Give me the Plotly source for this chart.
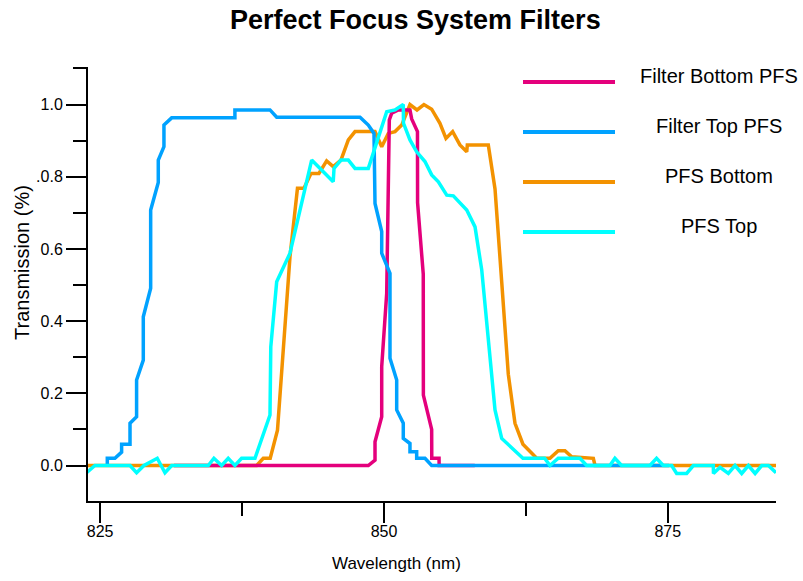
import plotly.graph_objects as go

# ---------------- data (wavelength in nm, transmission as fraction) ----------------
series_names = ["Filter Bottom PFS", "Filter Top PFS", "PFS Bottom", "PFS Top"]
series_colors = ["#E4007C", "#00A2FF", "#F39200", "#00FFFF"]

wl_filter_bottom = [831.5, 848.62, 849.21, 849.21, 849.80, 849.80, 850.24, 850.47, 850.68, 851.26,
                    852.29, 852.44, 852.95, 852.96, 853.46, 853.47, 854.20, 854.21, 854.85, 854.86, 858.0]
tr_filter_bottom = [0, 0, 0.015, 0.066, 0.135, 0.274, 0.477, 0.957, 0.976, 0.985,
                    0.985, 0.960, 0.925, 0.728, 0.530, 0.195, 0.100, 0.020, 0.020, 0, 0]

wl_filter_top = [825.63, 825.63, 826.30, 826.89, 826.89, 827.63, 827.63, 828.21, 828.21, 828.80,
                 828.80, 829.45, 829.45, 830.12, 830.12, 830.62, 830.62, 831.30, 836.87, 836.87,
                 839.96, 840.55, 847.89, 848.48, 848.62, 849.12, 849.21, 849.80, 849.80, 850.53,
                 850.53, 851.12, 851.12, 851.70, 851.70, 852.29, 852.29, 852.88, 852.88, 853.61,
                 854.20, 875.1]
tr_filter_top = [0, 0.02, 0.02, 0.037, 0.059, 0.059, 0.117, 0.135, 0.237, 0.292,
                 0.412, 0.491, 0.708, 0.784, 0.846, 0.883, 0.943, 0.963, 0.963, 0.985,
                 0.985, 0.965, 0.965, 0.948, 0.943, 0.920, 0.726, 0.648, 0.588, 0.532,
                 0.297, 0.237, 0.154, 0.117, 0.075, 0.061, 0.038, 0.038, 0.020, 0.020,
                 0, 0]

wl_pfs_bottom = [823.3, 838.79, 839.37, 839.98, 840.62, 841.72, 842.38, 842.95, 843.57, 844.27,
                 844.95, 845.53, 846.21, 846.86, 847.45, 849.21, 849.80, 850.38, 850.97, 851.56,
                 852.29, 852.91, 853.52, 854.20, 854.93, 855.46, 856.05, 856.69, 857.29, 857.34,
                 859.19, 859.78, 860.37, 860.95, 861.54, 862.24, 863.45, 864.62, 865.35, 865.94,
                 866.53, 868.44, 868.59, 884.53]
tr_pfs_bottom = [0, 0, 0.02, 0.02, 0.098, 0.578, 0.768, 0.768, 0.809, 0.809,
                 0.844, 0.828, 0.846, 0.902, 0.925, 0.925, 0.883, 0.920, 0.925, 0.943,
                 1.0, 0.985, 1.0, 0.987, 0.948, 0.906, 0.925, 0.888, 0.869, 0.888,
                 0.888, 0.766, 0.509, 0.253, 0.117, 0.059, 0.020, 0.020, 0.041, 0.041,
                 0.024, 0.020, 0, 0]

wl_pfs_top = [823.3, 823.81, 824.54, 827.63, 828.21, 828.86, 830.03, 830.71, 831.30, 834.52,
              835.02, 835.70, 836.28, 836.87, 837.46, 838.64, 839.96, 840.03, 840.55, 841.72,
              843.63, 844.36, 845.53, 845.60, 846.21, 846.86, 847.45, 848.62, 850.24, 850.97,
              851.70, 851.72, 852.29, 852.88, 853.61, 854.20, 854.79, 855.53, 856.11, 857.29,
              858.02, 858.61, 859.19, 859.78, 860.37, 862.24, 864.15, 864.62, 865.35, 867.26,
              867.85, 869.90, 870.34, 870.93, 873.42, 874.01, 874.60, 875.34, 875.78, 876.66,
              877.25, 879.01, 879.02, 879.60, 880.33, 880.92, 881.51, 882.10, 882.69, 883.27,
              883.86, 884.53]
tr_pfs_top = [0, -0.02, 0, 0, -0.02, 0, 0.02, -0.02, 0, 0,
              0.02, 0, 0.02, 0, 0.02, 0.02, 0.14, 0.329, 0.509, 0.588,
              0.846, 0.822, 0.786, 0.823, 0.846, 0.846, 0.823, 0.823, 0.98, 0.985,
              1.0, 0.948, 0.902, 0.869, 0.842, 0.805, 0.786, 0.749, 0.747, 0.708,
              0.661, 0.542, 0.348, 0.154, 0.075, 0.02, 0.02, 0, 0.02, 0.02,
              0, 0, 0.02, 0, 0, 0.02, 0, 0, -0.022, -0.022,
              0, 0, -0.022, -0.005, -0.022, 0, -0.022, 0, -0.022, 0,
              0, -0.02]

x_tick_vals = [825, 850, 875]
x_tick_text = ["825", "850", "875"]
x_minor_vals = [837.5, 862.5]
y_tick_vals = [0.0, 0.2, 0.4, 0.6, 0.8, 1.0]
y_tick_text = ["0.0", "0.2", "0.4", "0.6", ".0.8", "1.0"]
y_minor_vals = [0.1, 0.3, 0.5, 0.7, 0.9, 1.1]

# ---------------- layout geometry ----------------
W, H = 803, 581
ML, MR, MT, MB = 88, 27, 67, 80
PW, PH = W - ML - MR, H - MT - MB


def px_x(p):
    return (p - ML) / PW


def px_y(p):
    return (H - MB - p) / PH


FONT = "Liberation Sans, Arial, sans-serif"

fig = go.Figure()
# drawing order: orange, pink, blue, cyan
order = [2, 0, 1, 3]
data = {
    0: (wl_filter_bottom, tr_filter_bottom),
    1: (wl_filter_top, tr_filter_top),
    2: (wl_pfs_bottom, tr_pfs_bottom),
    3: (wl_pfs_top, tr_pfs_top),
}
for i in order:
    xs, ys = data[i]
    fig.add_trace(go.Scatter(x=xs, y=ys, mode="lines", name=series_names[i],
                             line=dict(color=series_colors[i], width=3.5),
                             showlegend=False))

axis_common = dict(showline=True, linecolor="black", linewidth=2, ticks="outside",
                   ticklen=20, tickwidth=2, tickcolor="black", showgrid=False,
                   zeroline=False, tickfont=dict(family=FONT, size=16, color="black"))

fig.update_xaxes(range=[823.93, 884.53], tickmode="array", tickvals=x_tick_vals,
                 ticktext=x_tick_text, ticklabelstandoff=-5,
                 minor=dict(tickmode="array", tickvals=x_minor_vals, ticklen=13,
                            tickwidth=2, tickcolor="black", ticks="outside", showgrid=False),
                 **axis_common)
fig.update_yaxes(range=[-0.0983, 1.1039], tickmode="array", tickvals=y_tick_vals,
                 ticktext=y_tick_text,
                 minor=dict(tickmode="array", tickvals=y_minor_vals, ticklen=13,
                            tickwidth=2, tickcolor="black", ticks="outside", showgrid=False),
                 **axis_common)

annotations = [
    dict(text="<b>Perfect Focus System Filters</b>", x=px_x(415), y=px_y(20),
         font=dict(family=FONT, size=27, color="black")),
    dict(text="Wavelength (nm)", x=px_x(396), y=px_y(563),
         font=dict(family=FONT, size=17, color="black")),
    dict(text="Transmission (%)", x=px_x(22), y=px_y(263), textangle=-90,
         font=dict(family=FONT, size=20, color="black")),
]
shapes = []
legend_y = [82, 132, 182, 232]
for k, name in enumerate(series_names):
    shapes.append(dict(type="line", xref="paper", yref="paper",
                       x0=px_x(523), x1=px_x(615), y0=px_y(legend_y[k]), y1=px_y(legend_y[k]),
                       line=dict(color=series_colors[k], width=4)))
    annotations.append(dict(text=name, x=px_x(719), y=px_y(legend_y[k] - 6),
                            font=dict(family=FONT, size=20, color="black")))

for a in annotations:
    a.update(xref="paper", yref="paper", showarrow=False, xanchor="center", yanchor="middle")

fig.update_layout(width=W, height=H, margin=dict(l=ML, r=MR, t=MT, b=MB, pad=0),
                  paper_bgcolor="white", plot_bgcolor="white",
                  annotations=annotations, shapes=shapes, showlegend=False)

fig.write_html("out.html")
